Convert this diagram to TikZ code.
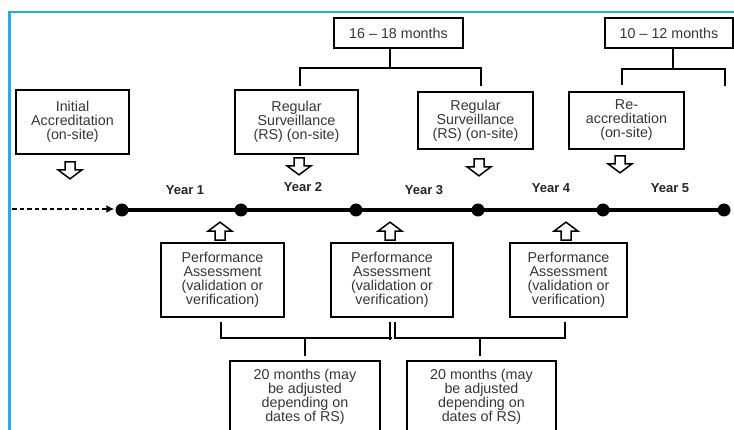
\documentclass[tikz,border=0pt]{standalone}
\usepackage{fontspec}
\setmainfont{Liberation Sans}
\usetikzlibrary{arrows.meta}
\definecolor{frameblue}{RGB}{41,170,226}
\definecolor{txtgray}{RGB}{55,55,55}
\begin{document}
\begin{tikzpicture}[x=1pt,y=1pt,
  box/.style={draw=black, line width=1.7pt, fill=white, inner sep=0pt, align=center,
    text=txtgray, font=\fontsize{14.3}{14}\selectfont},
  yr/.style={font=\bfseries\fontsize{13}{13}\selectfont, text=black!85},
  dot/.style={circle, fill=black, inner sep=0pt, minimum size=13pt},
  brk/.style={line width=1.7pt, draw=black},
  downarr/.pic={\draw[line width=1.5pt, fill=white] (-5,0) -- (5,0) -- (5,-8) -- (12,-8) -- (0,-17) -- (-12,-8) -- (-5,-8) -- cycle;},
  uparr/.pic={\draw[line width=1.5pt, fill=white] (-5,0) -- (5,0) -- (5,9) -- (12,9) -- (0,18) -- (-12,9) -- (-5,9) -- cycle;}
]
\useasboundingbox (0,0) rectangle (734,-430);
\clip (0,0) rectangle (734,-430);
\fill[white] (0,0) rectangle (734,-430);
\draw[line width=2.5pt, frameblue] (9.5,-445) -- (9.5,-12) -- (750,-12);

% top boxes
\node[box, minimum width=129pt, minimum height=30pt] (m16) at (398.5,-33) {16 -- 18 months};
\node[box, minimum width=128pt, minimum height=30pt] (m10) at (669,-33) {10 -- 12 months};

\node[box, minimum width=113pt, minimum height=64pt] (ia) at (72.5,-122) {Initial\\Accreditation\\(on-site)};
\node[box, minimum width=123pt, minimum height=64pt] (rs1) at (296.5,-122) {Regular\\Surveillance\\(RS) (on-site)};
\node[box, minimum width=115pt, minimum height=57pt] (rs2) at (475.5,-120.5) {Regular\\Surveillance\\(RS) (on-site)};
\node[box, minimum width=115pt, minimum height=57pt] (re) at (626.5,-120.5) {Re-\\accreditation\\(on-site)};

% top brackets
\draw[brk] ([xshift=-8.5pt]m16.south) -- ++(0,-19) coordinate (j1);
\draw[brk] ([xshift=3.5pt,yshift=3pt]rs1.north) |- (j1) -| ([xshift=5.5pt,yshift=5pt]rs2.north);
\draw[brk] ([xshift=4pt]m10.south) -- ++(0,-20) coordinate (j2);
\draw[brk] ([xshift=-4.5pt,yshift=6pt]re.north) |- (j2) -| (725,-86);

% hollow down arrows
\pic at ([xshift=-2.5pt,yshift=-7pt]ia.south) {downarr};
\pic at ([xshift=2.5pt,yshift=-3pt]rs1.south) {downarr};
\pic at ([xshift=3.5pt,yshift=-9pt]rs2.south) {downarr};
\pic at ([xshift=-6.5pt,yshift=-6pt]re.south) {downarr};

% timeline
\node[dot] (d1) at (122,-210) {};
\node[dot] (d2) at (241,-210) {};
\node[dot] (d3) at (356,-210) {};
\node[dot] (d4) at (478,-210) {};
\node[dot] (d5) at (603,-210) {};
\node[dot] (d6) at (724,-210) {};
\draw[line width=3.5pt] (d1.center) -- (d2.center) -- (d3.center) -- (d4.center) -- (d5.center) -- (d6.center);
\coordinate (start) at (12,-209);
\draw[line width=1.5pt, dash pattern=on 4.5pt off 3pt, -{Latex[length=8pt,width=8pt]}] (start) -- ([xshift=-1pt,yshift=1pt]d1.west);

\node[yr] (y1) at (185,-190) {Year 1};
\node[yr] (y2) at (303,-187) {Year 2};
\node[yr] (y3) at (424,-190) {Year 3};
\node[yr] (y4) at (551,-188) {Year 4};
\node[yr] (y5) at (670,-188) {Year 5};

% performance assessment
\node[box, minimum width=123pt, minimum height=74pt] (pa1) at (222.5,-280) {Performance\\Assessment\\(validation or\\verification)};
\node[box, minimum width=122pt, minimum height=74pt] (pa2) at (392,-280) {Performance\\Assessment\\(validation or\\verification)};
\node[box, minimum width=117pt, minimum height=74pt] (pa3) at (568.5,-280) {Performance\\Assessment\\(validation or\\verification)};

\pic at ([xshift=-2.5pt,yshift=2pt]pa1.north) {uparr};
\pic at ([xshift=-2pt,yshift=2pt]pa2.north) {uparr};
\pic at ([xshift=-2.5pt,yshift=2pt]pa3.north) {uparr};

% bottom boxes
\node[box, minimum width=150pt, minimum height=72pt] (t1) at (305,-397) {20 months (may\\be adjusted\\depending on\\dates of RS)};
\node[box, minimum width=149pt, minimum height=72pt] (t2) at (481.5,-397) {20 months (may\\be adjusted\\depending on\\dates of RS)};

% bottom brackets
\draw[brk] ([xshift=-1.5pt,yshift=-4pt]pa1.south) |- ([yshift=22pt]t1.north -| pa2.south) coordinate (k1);
\draw[brk] ([xshift=-2pt,yshift=-4pt]pa2.south) -- ([xshift=-2pt,yshift=-22pt]pa2.south);
\draw[brk] ([yshift=4pt]t1.north) -- ([yshift=22pt]t1.north);
\draw[brk] ([xshift=3pt,yshift=-4pt]pa2.south) |- ([yshift=22pt]t2.north) -| ([xshift=-3.5pt,yshift=-4pt]pa3.south);
\draw[brk] ([yshift=4pt,xshift=-1.5pt]t2.north) -- ([yshift=22pt,xshift=-1.5pt]t2.north);
\end{tikzpicture}
\end{document}
